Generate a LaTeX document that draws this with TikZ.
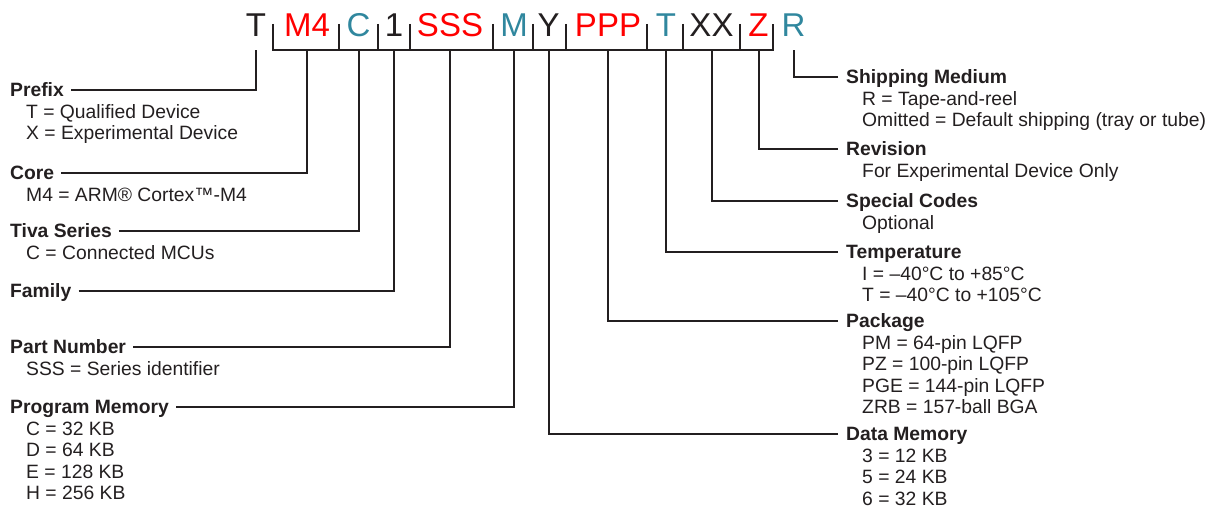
\documentclass[tikz,border=0pt]{standalone}
\usepackage{fontspec}
\setmainfont{Liberation Sans}
\usetikzlibrary{positioning}

\definecolor{ink}{RGB}{35,31,32}
\definecolor{partred}{RGB}{255,0,0}
\definecolor{partteal}{RGB}{48,135,158}

\tikzset{
  code/.style={font=\fontsize{33}{33}\selectfont, inner sep=0pt, anchor=base},
  ttl/.style={font=\fontsize{19.3}{21.5}\selectfont\bfseries, text=ink, inner sep=0pt, anchor=base west},
  desc/.style={font=\fontsize{19.3}{21.5}\selectfont, text=ink, inner sep=0pt, align=left},
  lead/.style={draw=ink, line width=2pt}
}
\newcommand{\fl}{\rule{0pt}{14pt}}

\begin{document}
\begin{tikzpicture}[x=1pt,y=-1pt]
\useasboundingbox (0,0) rectangle (1212,508);
\def\brk{50}
\def\tick{24}
\def\lx{10}
\def\rx{846}

\coordinate (brk) at (0,\brk);

% part number characters
\foreach \x/\t/\c/\n in {256/T/ink/cT, 307/M4/partred/cCore, 358.5/C/partteal/cC,
    394/1/ink/cOne, 450/SSS/partred/cS, 514/M/partteal/cM, 548.5/Y/ink/cY,
    608/PPP/partred/cP, 666/T/partteal/cTemp, 711.5/XX/ink/cX,
    758.5/Z/partred/cZ, 793.5/R/partteal/cR}
  \node[code, text=\c] (\n) at (\x,37) {\t};

% bracket under the characters
\draw[lead] (273,\tick) -- (273,\brk) -- (773,\brk) -- (773,\tick);
\foreach \x in {339,378,410,493,533,566,647,683,740}
  \draw[lead] (\x,\tick) -- (\x,\brk);

% left labels
\node[ttl] (pfx) at (\lx,96.5) {Prefix};
\node[desc, below right=7.5pt and 16pt of pfx.base west] (pfxd) {\fl T = Qualified Device\\X = Experimental Device};
\node[ttl] (core) at (\lx,179.5) {Core};
\node[desc, below right=7.5pt and 16pt of core.base west] (cored) {\fl M4 = ARM® Cortex™-M4};
\node[ttl] (tiva) at (\lx,237.5) {Tiva Series};
\node[desc, below right=7.5pt and 16pt of tiva.base west] (tivad) {\fl C = Connected MCUs};
\node[ttl] (fam) at (\lx,297.5) {Family};
\node[ttl] (part) at (\lx,353.5) {Part Number};
\node[desc, below right=7.5pt and 16pt of part.base west] (partd) {\fl SSS = Series identifier};
\node[ttl] (prog) at (\lx,413.5) {Program Memory};
\node[desc, below right=7.5pt and 16pt of prog.base west] (progd) {\fl C = 32 KB\\D = 64 KB\\E = 128 KB\\H = 256 KB};

% right labels
\node[ttl] (ship) at (\rx,83.5) {Shipping Medium};
\node[desc, below right=7.5pt and 16pt of ship.base west] (shipd) {\fl R = Tape-and-reel\\Omitted = Default shipping (tray or tube)};
\node[ttl] (rev) at (\rx,155.5) {Revision};
\node[desc, below right=7.5pt and 16pt of rev.base west] (revd) {\fl For Experimental Device Only};
\node[ttl] (spc) at (\rx,207.5) {Special Codes};
\node[desc, below right=7.5pt and 16pt of spc.base west] (spcd) {\fl Optional};
\node[ttl] (tmp) at (\rx,258.5) {Temperature};
\node[desc, below right=7.5pt and 16pt of tmp.base west] (tmpd) {\fl I = –40°C to +85°C\\T = –40°C to +105°C};
\node[ttl] (pkg) at (\rx,327.5) {Package};
\node[desc, below right=7.5pt and 16pt of pkg.base west] (pkgd) {\fl PM = 64-pin LQFP\\PZ = 100-pin LQFP\\PGE = 144-pin LQFP\\ZRB = 157-ball BGA};
\node[ttl] (dat) at (\rx,440.5) {Data Memory};
\node[desc, below right=7.5pt and 16pt of dat.base west] (datd) {\fl 3 = 12 KB\\5 = 24 KB\\6 = 32 KB};

% leaders
\foreach \a/\b in {pfx/cT, core/cCore, tiva/cC, fam/cOne, part/cS, prog/cM} {
  \coordinate (e) at ([shift={(7pt,6.5pt)}]\a.base east);
  \draw[lead] (e) -- (e -| \b) -- (\b |- brk);
}
\foreach \a/\b in {ship/cR, rev/cZ, spc/cX, tmp/cTemp, pkg/cP, dat/cY} {
  \coordinate (e) at ([shift={(-8pt,6.5pt)}]\a.base west);
  \draw[lead] (e) -- (e -| \b) -- (\b |- brk);
}
\end{tikzpicture}
\end{document}
